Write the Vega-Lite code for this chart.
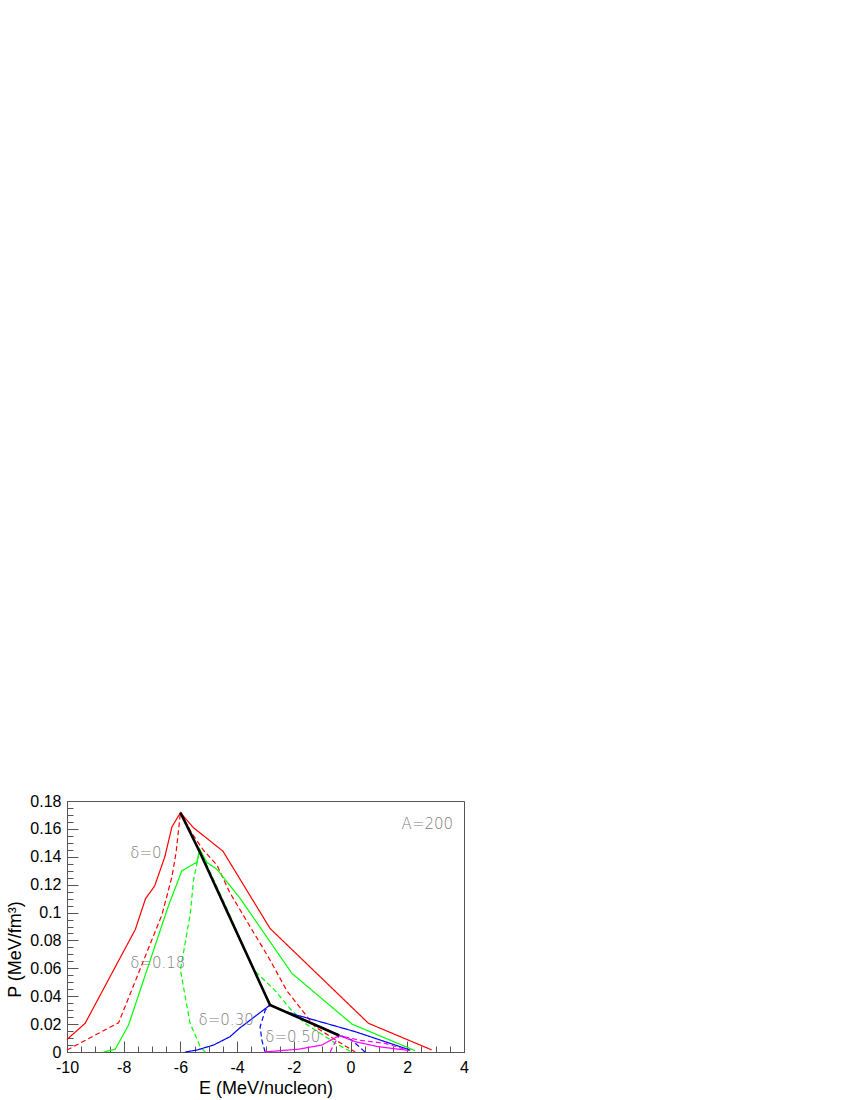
{
  "$schema": "https://vega.github.io/schema/vega-lite/v6.json",
  "width": 397,
  "height": 251,
  "autosize": {"type": "none"},
  "padding": {"left": 67, "top": 801, "right": 386, "bottom": 48},
  "background": "white",
  "config": {
    "view": {"stroke": "#555555", "strokeWidth": 1},
    "axis": {
      "grid": false,
      "domainColor": "#555555",
      "tickColor": "#555555",
      "labelFont": "Liberation Sans",
      "titleFont": "Liberation Sans",
      "labelColor": "black",
      "titleColor": "black",
      "labelFontSize": 16,
      "titleFontSize": 18,
      "titleFontWeight": "normal"
    }
  },
  "datasets": {
    "curves": [
      {"c": "r_s", "d": "0", "s": "solid", "i": 0, "E": -10, "P": 0.009},
      {"c": "r_s", "d": "0", "s": "solid", "i": 1, "E": -9.36, "P": 0.0206},
      {"c": "r_s", "d": "0", "s": "solid", "i": 2, "E": -7.59, "P": 0.0879},
      {"c": "r_s", "d": "0", "s": "solid", "i": 3, "E": -7.23, "P": 0.11},
      {"c": "r_s", "d": "0", "s": "solid", "i": 4, "E": -6.91, "P": 0.119},
      {"c": "r_s", "d": "0", "s": "solid", "i": 5, "E": -6.55, "P": 0.14},
      {"c": "r_s", "d": "0", "s": "solid", "i": 6, "E": -6.3, "P": 0.1614},
      {"c": "r_s", "d": "0", "s": "solid", "i": 7, "E": -6.0, "P": 0.1717},
      {"c": "r_s", "d": "0", "s": "solid", "i": 8, "E": -5.55, "P": 0.161},
      {"c": "r_s", "d": "0", "s": "solid", "i": 9, "E": -4.5, "P": 0.144},
      {"c": "r_s", "d": "0", "s": "solid", "i": 10, "E": -4.2, "P": 0.134},
      {"c": "r_s", "d": "0", "s": "solid", "i": 11, "E": -2.84, "P": 0.0886},
      {"c": "r_s", "d": "0", "s": "solid", "i": 12, "E": 0.63, "P": 0.0206},
      {"c": "r_s", "d": "0", "s": "solid", "i": 13, "E": 2.86, "P": 0.0015},

      {"c": "r_d", "d": "0", "s": "dashed", "i": 0, "E": -10, "P": 0.0014},
      {"c": "r_d", "d": "0", "s": "dashed", "i": 1, "E": -8.18, "P": 0.021},
      {"c": "r_d", "d": "0", "s": "dashed", "i": 2, "E": -6.65, "P": 0.0985},
      {"c": "r_d", "d": "0", "s": "dashed", "i": 3, "E": -6.3, "P": 0.1256},
      {"c": "r_d", "d": "0", "s": "dashed", "i": 4, "E": -6.15, "P": 0.1435},
      {"c": "r_d", "d": "0", "s": "dashed", "i": 5, "E": -6.0, "P": 0.1717},
      {"c": "r_d", "d": "0", "s": "dashed", "i": 6, "E": -5.6, "P": 0.157},
      {"c": "r_d", "d": "0", "s": "dashed", "i": 7, "E": -5.19, "P": 0.1447},
      {"c": "r_d", "d": "0", "s": "dashed", "i": 8, "E": -4.71, "P": 0.134},
      {"c": "r_d", "d": "0", "s": "dashed", "i": 9, "E": -4.25, "P": 0.114},
      {"c": "r_d", "d": "0", "s": "dashed", "i": 10, "E": -2.84, "P": 0.066},
      {"c": "r_d", "d": "0", "s": "dashed", "i": 11, "E": -2.25, "P": 0.044},
      {"c": "r_d", "d": "0", "s": "dashed", "i": 12, "E": -1.25, "P": 0.018},
      {"c": "r_d", "d": "0", "s": "dashed", "i": 13, "E": -0.43, "P": 0.0074},
      {"c": "r_d", "d": "0", "s": "dashed", "i": 14, "E": 0.16, "P": 0.0},

      {"c": "g_s", "d": "0.18", "s": "solid", "i": 0, "E": -8.71, "P": 0.0},
      {"c": "g_s", "d": "0.18", "s": "solid", "i": 1, "E": -8.3, "P": 0.002},
      {"c": "g_s", "d": "0.18", "s": "solid", "i": 2, "E": -8.12, "P": 0.0086},
      {"c": "g_s", "d": "0.18", "s": "solid", "i": 3, "E": -7.83, "P": 0.0193},
      {"c": "g_s", "d": "0.18", "s": "solid", "i": 4, "E": -6.42, "P": 0.105},
      {"c": "g_s", "d": "0.18", "s": "solid", "i": 5, "E": -5.95, "P": 0.13},
      {"c": "g_s", "d": "0.18", "s": "solid", "i": 6, "E": -5.42, "P": 0.136},
      {"c": "g_s", "d": "0.18", "s": "solid", "i": 7, "E": -5.32, "P": 0.1454},
      {"c": "g_s", "d": "0.18", "s": "solid", "i": 8, "E": -5.07, "P": 0.136},
      {"c": "g_s", "d": "0.18", "s": "solid", "i": 9, "E": -4.71, "P": 0.131},
      {"c": "g_s", "d": "0.18", "s": "solid", "i": 10, "E": -3.89, "P": 0.11},
      {"c": "g_s", "d": "0.18", "s": "solid", "i": 11, "E": -2.07, "P": 0.0564},
      {"c": "g_s", "d": "0.18", "s": "solid", "i": 12, "E": 0.05, "P": 0.02},
      {"c": "g_s", "d": "0.18", "s": "solid", "i": 13, "E": 2.27, "P": 0.001},

      {"c": "g_d", "d": "0.18", "s": "dashed", "i": 0, "E": -5.13, "P": 0.0},
      {"c": "g_d", "d": "0.18", "s": "dashed", "i": 1, "E": -5.3, "P": 0.0038},
      {"c": "g_d", "d": "0.18", "s": "dashed", "i": 2, "E": -5.66, "P": 0.0206},
      {"c": "g_d", "d": "0.18", "s": "dashed", "i": 3, "E": -6.0, "P": 0.0587},
      {"c": "g_d", "d": "0.18", "s": "dashed", "i": 4, "E": -5.65, "P": 0.0995},
      {"c": "g_d", "d": "0.18", "s": "dashed", "i": 5, "E": -5.54, "P": 0.123},
      {"c": "g_d", "d": "0.18", "s": "dashed", "i": 6, "E": -5.42, "P": 0.135},
      {"c": "g_d", "d": "0.18", "s": "dashed", "i": 7, "E": -5.32, "P": 0.1454},
      {"c": "g_d", "d": "0.18", "s": "dashed", "i": 8, "E": -4.3, "P": 0.1},
      {"c": "g_d", "d": "0.18", "s": "dashed", "i": 9, "E": -3.42, "P": 0.059},
      {"c": "g_d", "d": "0.18", "s": "dashed", "i": 10, "E": -2.66, "P": 0.044},
      {"c": "g_d", "d": "0.18", "s": "dashed", "i": 11, "E": -2.13, "P": 0.031},
      {"c": "g_d", "d": "0.18", "s": "dashed", "i": 12, "E": -1.61, "P": 0.0206},
      {"c": "g_d", "d": "0.18", "s": "dashed", "i": 13, "E": -0.43, "P": 0.005},
      {"c": "g_d", "d": "0.18", "s": "dashed", "i": 14, "E": 0.04, "P": 0.0},

      {"c": "b_s", "d": "0.30", "s": "solid", "i": 0, "E": -5.83, "P": 0.0},
      {"c": "b_s", "d": "0.30", "s": "solid", "i": 1, "E": -5.42, "P": 0.0014},
      {"c": "b_s", "d": "0.30", "s": "solid", "i": 2, "E": -4.83, "P": 0.005},
      {"c": "b_s", "d": "0.30", "s": "solid", "i": 3, "E": -4.25, "P": 0.011},
      {"c": "b_s", "d": "0.30", "s": "solid", "i": 4, "E": -3.92, "P": 0.017},
      {"c": "b_s", "d": "0.30", "s": "solid", "i": 5, "E": -2.84, "P": 0.0337},
      {"c": "b_s", "d": "0.30", "s": "solid", "i": 6, "E": -2.42, "P": 0.03},
      {"c": "b_s", "d": "0.30", "s": "solid", "i": 7, "E": -1.9, "P": 0.0265},
      {"c": "b_s", "d": "0.30", "s": "solid", "i": 8, "E": 0.16, "P": 0.0146},
      {"c": "b_s", "d": "0.30", "s": "solid", "i": 9, "E": 2.1, "P": 0.0014},

      {"c": "b_d", "d": "0.30", "s": "dashed", "i": 0, "E": -3.01, "P": 0.0},
      {"c": "b_d", "d": "0.30", "s": "dashed", "i": 1, "E": -3.07, "P": 0.004},
      {"c": "b_d", "d": "0.30", "s": "dashed", "i": 2, "E": -3.13, "P": 0.0086},
      {"c": "b_d", "d": "0.30", "s": "dashed", "i": 3, "E": -3.19, "P": 0.018},
      {"c": "b_d", "d": "0.30", "s": "dashed", "i": 4, "E": -3.01, "P": 0.03},
      {"c": "b_d", "d": "0.30", "s": "dashed", "i": 5, "E": -2.84, "P": 0.0337},
      {"c": "b_d", "d": "0.30", "s": "dashed", "i": 6, "E": -1.5, "P": 0.022},
      {"c": "b_d", "d": "0.30", "s": "dashed", "i": 7, "E": -0.5, "P": 0.013},
      {"c": "b_d", "d": "0.30", "s": "dashed", "i": 8, "E": 0.04, "P": 0.0086},
      {"c": "b_d", "d": "0.30", "s": "dashed", "i": 9, "E": 0.51, "P": 0.0},

      {"c": "m_s", "d": "0.50", "s": "solid", "i": 0, "E": -3.05, "P": 0.0},
      {"c": "m_s", "d": "0.50", "s": "solid", "i": 1, "E": -1.84, "P": 0.002},
      {"c": "m_s", "d": "0.50", "s": "solid", "i": 2, "E": -1.01, "P": 0.005},
      {"c": "m_s", "d": "0.50", "s": "solid", "i": 3, "E": -0.4, "P": 0.0118},
      {"c": "m_s", "d": "0.50", "s": "solid", "i": 4, "E": 0.16, "P": 0.0074},
      {"c": "m_s", "d": "0.50", "s": "solid", "i": 5, "E": 0.98, "P": 0.0038},
      {"c": "m_s", "d": "0.50", "s": "solid", "i": 6, "E": 2.1, "P": 0.001},

      {"c": "m_d", "d": "0.50", "s": "dashed", "i": 0, "E": -0.72, "P": 0.0},
      {"c": "m_d", "d": "0.50", "s": "dashed", "i": 1, "E": -0.6, "P": 0.005},
      {"c": "m_d", "d": "0.50", "s": "dashed", "i": 2, "E": -0.4, "P": 0.0118},
      {"c": "m_d", "d": "0.50", "s": "dashed", "i": 3, "E": 0.3, "P": 0.0085},
      {"c": "m_d", "d": "0.50", "s": "dashed", "i": 4, "E": 1.22, "P": 0.0062},
      {"c": "m_d", "d": "0.50", "s": "dashed", "i": 5, "E": 1.9, "P": 0.002},

      {"c": "k", "d": "peak", "s": "thick", "i": 0, "E": -6.0, "P": 0.1717},
      {"c": "k", "d": "peak", "s": "thick", "i": 1, "E": -5.33, "P": 0.144},
      {"c": "k", "d": "peak", "s": "thick", "i": 2, "E": -2.84, "P": 0.0337},
      {"c": "k", "d": "peak", "s": "thick", "i": 3, "E": -0.4, "P": 0.0118}
    ],
    "labels": [
      {"t": "δ=0", "E": -7.77, "P": 0.1428},
      {"t": "δ=0.18", "E": -7.77, "P": 0.0635},
      {"t": "δ=0.30", "E": -5.36, "P": 0.0229},
      {"t": "δ=0.50", "E": -3.01, "P": 0.011},
      {"t": "A=200", "E": 1.8, "P": 0.1638}
    ]
  },
  "layer": [
    {
      "data": {"name": "curves"},
      "transform": [{"filter": "datum.s != 'thick'"}],
      "mark": {"type": "line", "strokeWidth": 1.2},
      "encoding": {
        "x": {
          "field": "E", "type": "quantitative",
          "scale": {"domain": [-10, 4], "nice": false, "zero": false},
          "axis": {
            "orient": "bottom",
            "values": [-10, -8, -6, -4, -2, 0, 2, 4],
            "tickSize": -11,
            "labelPadding": 18,
            "labelExpr": "'' + datum.value",
            "labelFlush": false,
            "labelOverlap": false,
            "title": "E (MeV/nucleon)",
            "titlePadding": 4
          }
        },
        "y": {
          "field": "P", "type": "quantitative",
          "scale": {"domain": [0, 0.18], "nice": false, "zero": true},
          "axis": {
            "orient": "left",
            "values": [0, 0.02, 0.04, 0.06, 0.08, 0.1, 0.12, 0.14, 0.16, 0.18],
            "tickSize": -11,
            "labelPadding": 17,
            "labelExpr": "'' + datum.value",
            "labelFlush": false,
            "labelOverlap": false,
            "title": "P (MeV/fm³)",
            "titleX": -52,
            "titleY": 148,
            "titleAlign": "center",
            "titleBaseline": "middle"
          }
        },
        "color": {
          "field": "d", "type": "nominal",
          "scale": {"domain": ["0", "0.18", "0.30", "0.50"], "range": ["#ff0000", "#00ff00", "#0000ff", "#ff00ff"]},
          "legend": null
        },
        "detail": {"field": "c", "type": "nominal"},
        "strokeDash": {
          "field": "s", "type": "nominal",
          "scale": {"domain": ["solid", "dashed"], "range": [[1, 0], [5, 3]]},
          "legend": null
        },
        "order": {"field": "i", "type": "quantitative"}
      }
    },
    {
      "data": {"name": "curves"},
      "transform": [{"filter": "datum.s == 'thick'"}],
      "mark": {"type": "line", "color": "black", "strokeWidth": 2.6},
      "encoding": {
        "x": {"field": "E", "type": "quantitative", "axis": null},
        "y": {"field": "P", "type": "quantitative", "axis": null},
        "order": {"field": "i", "type": "quantitative"}
      }
    },
    {
      "data": {"name": "labels"},
      "mark": {"type": "text", "align": "left", "baseline": "middle", "font": "DejaVu Sans", "fontWeight": 300, "fontSize": 15, "color": "#808080"},
      "encoding": {
        "x": {
          "field": "E", "type": "quantitative",
          "axis": {
            "orient": "bottom",
            "values": [-10, -9.5, -9, -8.5, -8, -7.5, -7, -6.5, -6, -5.5, -5, -4.5, -4, -3.5, -3, -2.5, -2, -1.5, -1, -0.5, 0, 0.5, 1, 1.5, 2, 2.5, 3, 3.5, 4],
            "tickSize": -6,
            "labels": false,
            "domain": false,
            "title": null
          }
        },
        "y": {
          "field": "P", "type": "quantitative",
          "axis": {
            "orient": "left",
            "values": [0, 0.005, 0.01, 0.015, 0.02, 0.025, 0.03, 0.035, 0.04, 0.045, 0.05, 0.055, 0.06, 0.065, 0.07, 0.075, 0.08, 0.085, 0.09, 0.095, 0.1, 0.105, 0.11, 0.115, 0.12, 0.125, 0.13, 0.135, 0.14, 0.145, 0.15, 0.155, 0.16, 0.165, 0.17, 0.175, 0.18],
            "tickSize": -6,
            "labels": false,
            "domain": false,
            "title": null
          }
        },
        "text": {"field": "t", "type": "nominal"}
      }
    }
  ],
  "resolve": {"axis": {"x": "independent", "y": "independent"}}
}
